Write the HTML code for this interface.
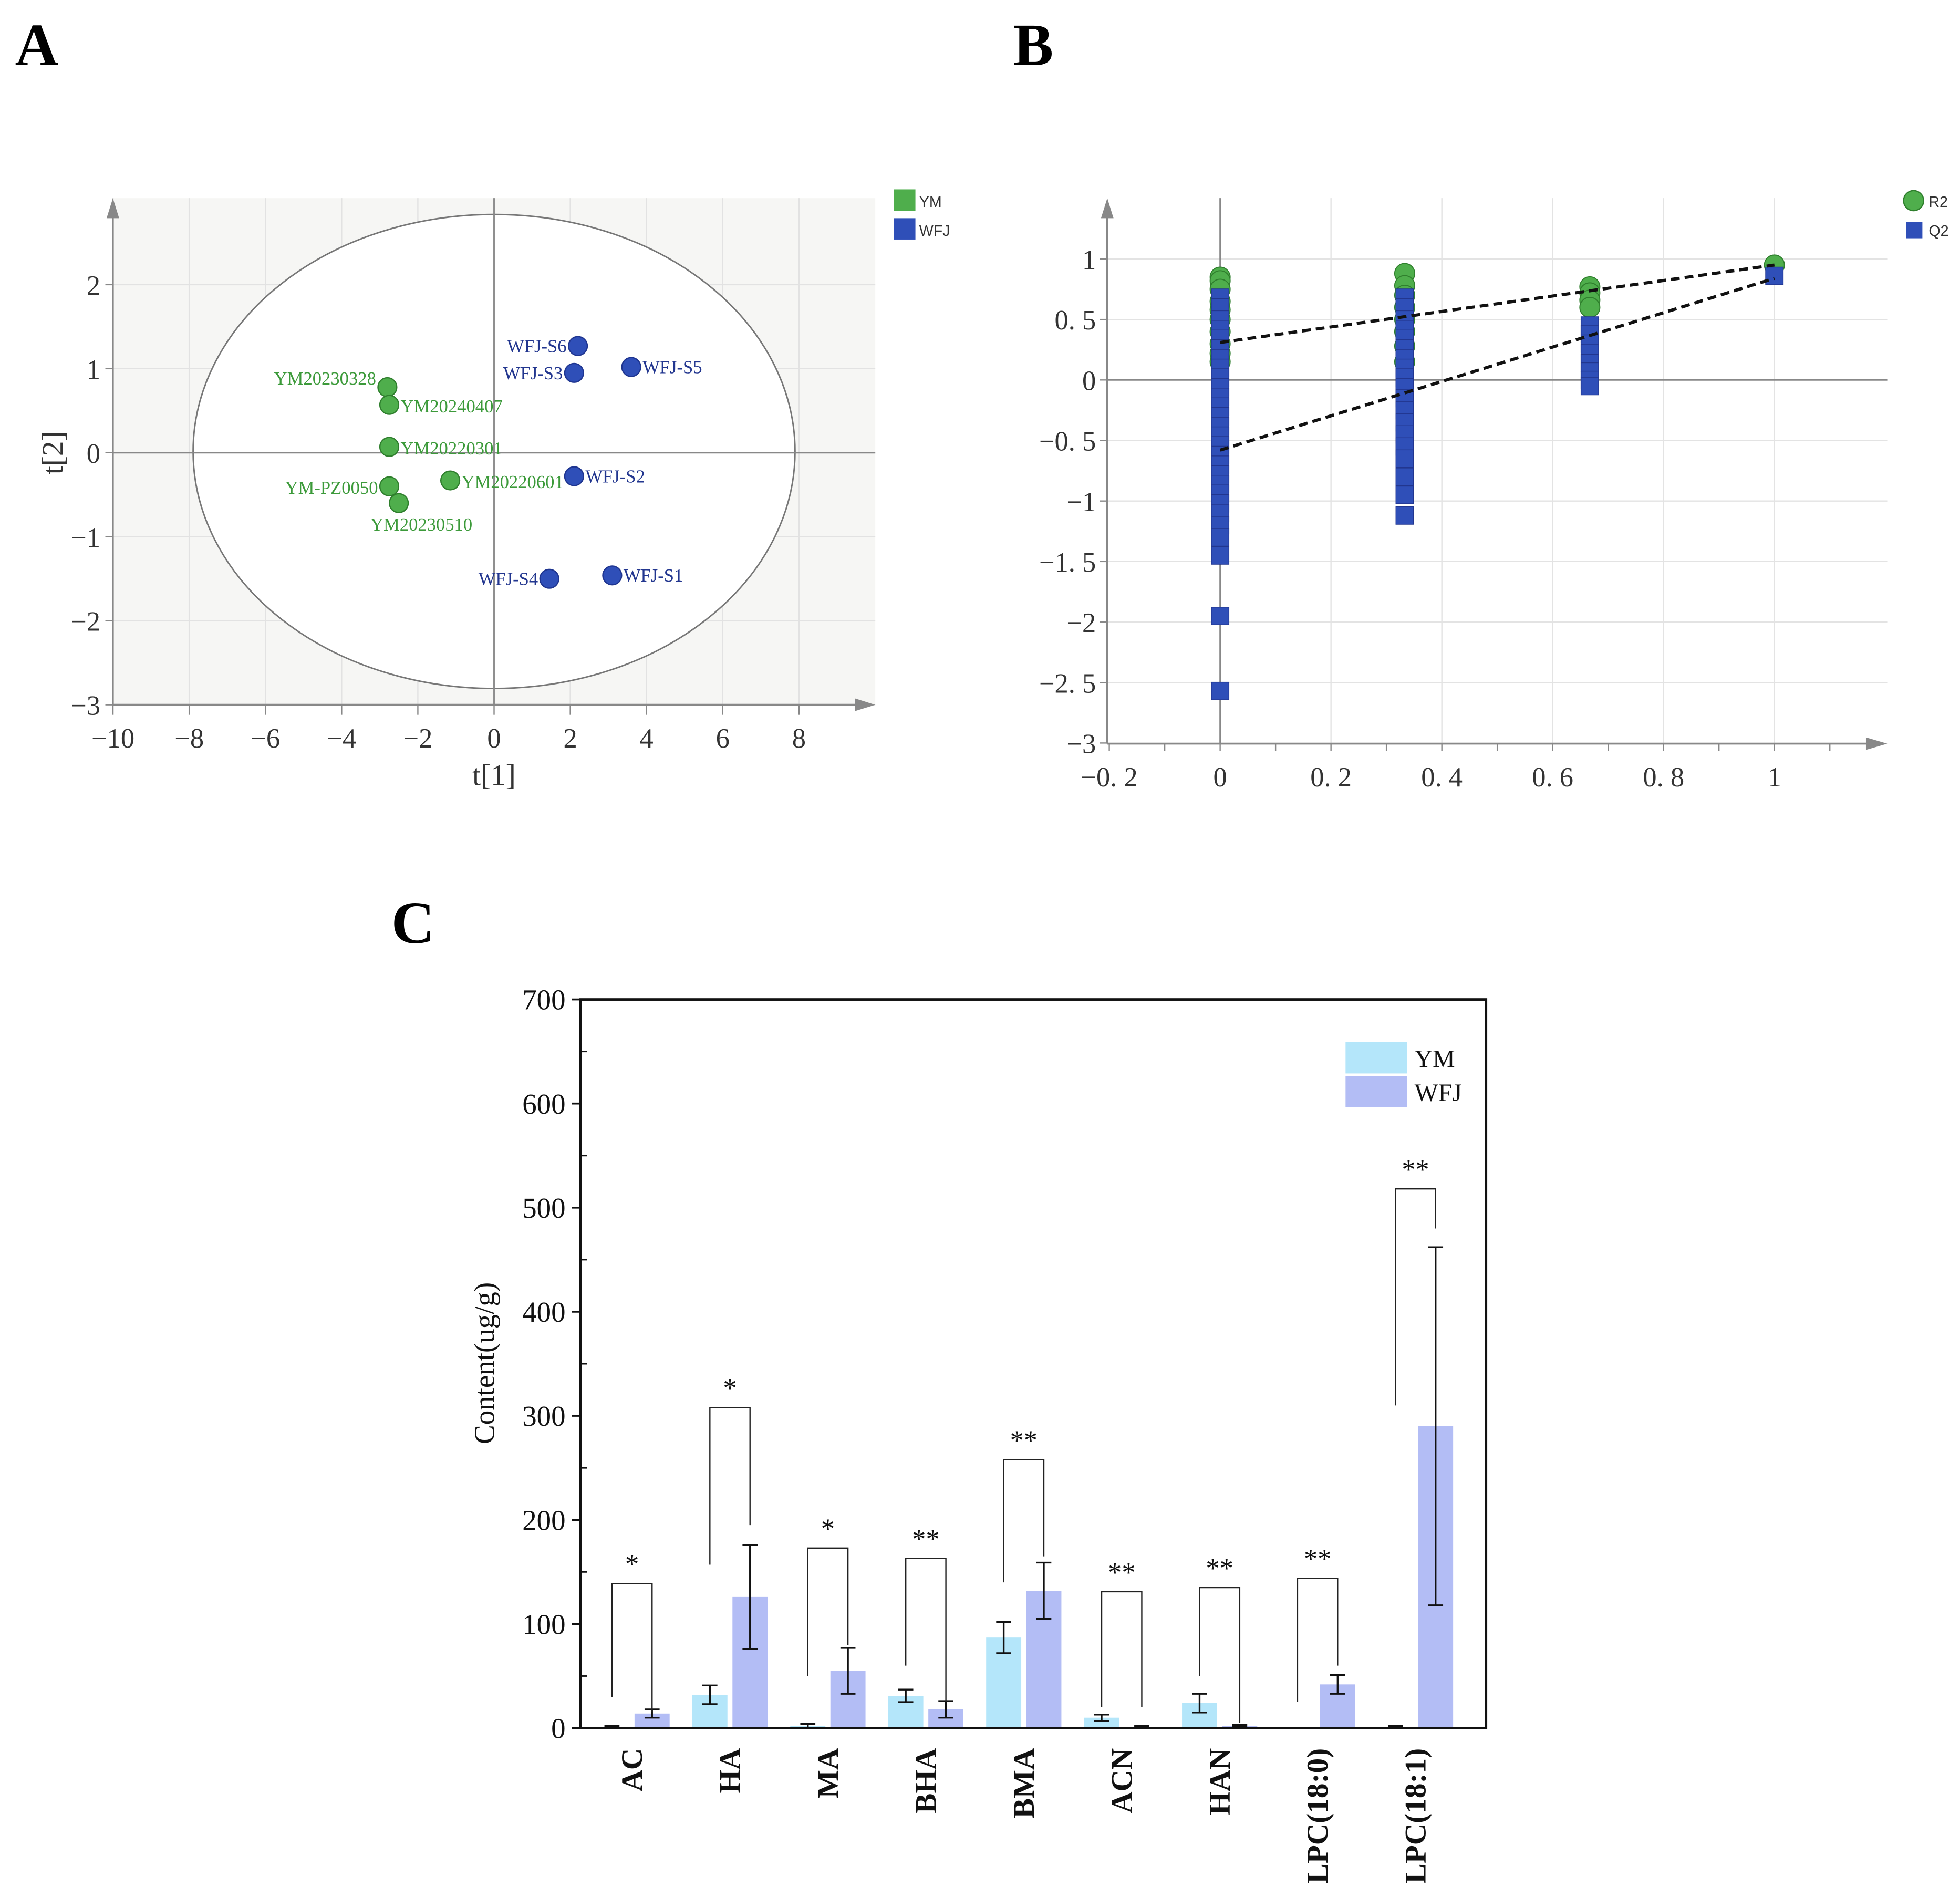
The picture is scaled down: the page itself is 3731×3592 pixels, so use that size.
<!DOCTYPE html>
<html><head><meta charset="utf-8"><style>
html,body{margin:0;padding:0;background:#fff}
svg{display:block}
text{font-family:"Liberation Serif",serif}
text.sans{font-family:"Liberation Sans",sans-serif}
</style></head><body>
<svg id="fig" width="3731" height="3592" viewBox="0 0 1563 1504.7" preserveAspectRatio="none" xmlns="http://www.w3.org/2000/svg">
<text x="12" y="52" font-size="48" font-weight="bold">A</text>
<text x="808" y="52" font-size="48" font-weight="bold">B</text>
<text x="312" y="752" font-size="48" font-weight="bold">C</text>
<g id="pa"></g>
<g id="pb"></g>
<g id="pc"></g>
</svg>
<script>
// ---------- Panel A data ----------
const ymNames=["YM20230328","YM20240407","YM20220301","YM-PZ0050","YM20230510","YM20220601"];
const ymT1=[-2.8,-2.75,-2.75,-2.75,-2.5,-1.15];
const ymT2=[0.78,0.57,0.07,-0.4,-0.6,-0.33];
const wfjNames=["WFJ-S6","WFJ-S3","WFJ-S5","WFJ-S2","WFJ-S4","WFJ-S1"];
const wfjT1=[2.2,2.1,3.6,2.1,1.45,3.1];
const wfjT2=[1.27,0.95,1.02,-0.28,-1.5,-1.46];
const aXTicks=[-10,-8,-6,-4,-2,0,2,4,6,8];
const aYTicks=[-3,-2,-1,0,1,2];
// ---------- Panel B data ----------
const r2X=[0,0,0,0,0,0,0,0,0,0,0.333,0.333,0.333,0.333,0.333,0.333,0.333,0.333,0.667,0.667,0.667,0.667,1];
const r2Y=[0.85,0.82,0.75,0.65,0.58,0.5,0.4,0.3,0.22,0.15,0.88,0.78,0.7,0.6,0.5,0.4,0.28,0.15,0.77,0.72,0.66,0.6,0.95];
const q2X=[0,0,0,0,0,0,0,0,0,0,0,0,0,0,0,0,0,0,0,0,0,0,0,0,0,0,0,0,0.333,0.333,0.333,0.333,0.333,0.333,0.333,0.333,0.333,0.333,0.333,0.333,0.333,0.333,0.333,0.333,0.333,0.333,0.333,0.667,0.667,0.667,0.667,0.667,0.667,0.667,0.667,1];
const q2Y=[0.68,0.6,0.5,0.42,0.34,0.26,0.18,0.1,0.02,-0.06,-0.14,-0.22,-0.3,-0.38,-0.46,-0.54,-0.62,-0.7,-0.78,-0.86,-0.94,-1.02,-1.1,-1.2,-1.3,-1.45,-1.95,-2.57,0.68,0.6,0.5,0.42,0.34,0.26,0.18,0.1,0.02,-0.06,-0.15,-0.25,-0.35,-0.45,-0.55,-0.65,-0.8,-0.95,-1.12,0.45,0.38,0.3,0.22,0.14,0.07,0,-0.05,0.86];
const r2Line=[0.31,0.95];
const q2Line=[-0.58,0.84];
const bXTicks=[-0.2,0,0.2,0.4,0.6,0.8,1];
const bXLabels=["\u22120. 2","0","0. 2","0. 4","0. 6","0. 8","1"];
const bYTicks=[-3,-2.5,-2,-1.5,-1,-0.5,0,0.5,1];
const bYLabels=["\u22123","\u22122. 5","\u22122","\u22121. 5","\u22121","\u22120. 5","0","0. 5","1"];
// ---------- Panel C data ----------
const cats=["AC","HA","MA","BHA","BMA","ACN","HAN","LPC(18:0)","LPC(18:1)"];
const ymVals=[1,32,2,31,87,10,24,0,1];
const ymErr=[1,9,2,6,15,3,9,0,1];
const wfjVals=[14,126,55,18,132,1,2,42,290];
const wfjErr=[4,50,22,8,27,1,1,9,172];
const brTop=[139,308,173,163,258,131,135,144,518];
const brLeft=[30,157,50,60,140,20,50,25,310];
const brRight=[16,195,80,25,165,20,5,60,480];
const stars=["*","*","*","**","**","**","**","**","**"];
const cYTicks=[0,100,200,300,400,500,600,700];

const NS="http://www.w3.org/2000/svg";
function mk(parent,tag,attrs,txt){const e=document.createElementNS(NS,tag);for(const k in attrs)e.setAttribute(k,attrs[k]);if(txt!==undefined)e.textContent=txt;parent.appendChild(e);return e;}

// ===== Panel A =====
(function(){
const g=document.getElementById('pa');
const ax=v=>394+v*30.39, ay=v=>361-v*67;
let e=mk(g,'rect',{x:90,y:158,width:608,height:404,fill:'#f6f6f4'});

for(let v=-10;v<=8;v+=2){if(v!==0)mk(g,'line',{x1:ax(v),y1:158,x2:ax(v),y2:562,stroke:'#e2e2e2','stroke-width':1});}
for(let v=-3;v<=2;v++){if(v!==0)mk(g,'line',{x1:90,y1:ay(v),x2:698,y2:ay(v),stroke:'#e2e2e2','stroke-width':1});}
e=mk(g,'ellipse',{cx:394,cy:360,rx:240,ry:189,fill:'#fff',stroke:'#777','stroke-width':1.2});

mk(g,'line',{x1:394,y1:158,x2:394,y2:562,stroke:'#888','stroke-width':1.2});
mk(g,'line',{x1:90,y1:361,x2:698,y2:361,stroke:'#888','stroke-width':1.2});
mk(g,'line',{x1:90,y1:562,x2:690,y2:562,stroke:'#888','stroke-width':1.5});
mk(g,'line',{x1:90,y1:170,x2:90,y2:562,stroke:'#888','stroke-width':1.5});
mk(g,'polygon',{points:'682,557 698,562 682,567',fill:'#888'});
mk(g,'polygon',{points:'85,174 90,158 95,174',fill:'#888'});
aXTicks.forEach(v=>{mk(g,'line',{x1:ax(v),y1:562,x2:ax(v),y2:570,stroke:'#888'});
 const t=mk(g,'text',{x:ax(v),y:596,'font-size':22,'text-anchor':'middle',fill:'#333'},v<0?'\u2212'+(-v):String(v));
 });
aYTicks.forEach(v=>{mk(g,'line',{x1:84,y1:ay(v),x2:90,y2:ay(v),stroke:'#888'});
 const t=mk(g,'text',{x:80,y:ay(v)+8,'font-size':22,'text-anchor':'end',fill:'#333'},v<0?'\u2212'+(-v):String(v));
 });
e=mk(g,'text',{x:394,y:626,'font-size':24,'text-anchor':'middle',fill:'#333'},'t[1]');

e=mk(g,'text',{x:0,y:0,'font-size':24,'text-anchor':'middle',fill:'#333',transform:'translate(50,361) rotate(-90)'},'t[2]');

const ymLab=[[-1,-4],[1,4],[1,4],[-1,4],[0,22],[1,4]];
ymNames.forEach((n,i)=>{const x=ax(ymT1[i]),y=ay(ymT2[i]);
 const c=mk(g,'circle',{cx:x,cy:y,r:7.5,fill:'#4fae4c',stroke:'#2f7f2d','stroke-width':1});
 
 const L=ymLab[i];let tx,anchor;
 if(L[0]<0){tx=x-9;anchor='end';}else if(L[0]>0){tx=x+9;anchor='start';}else{tx=x+18;anchor='middle';}
 const t=mk(g,'text',{x:tx,y:y+L[1]+(L[0]===0?0:2),'font-size':14.5,'text-anchor':anchor,fill:'#3c9a3a'},n);
 });
const wLab=[-1,-1,1,1,-1,1];
wfjNames.forEach((n,i)=>{const x=ax(wfjT1[i]),y=ay(wfjT2[i]);
 const c=mk(g,'circle',{cx:x,cy:y,r:7.5,fill:'#2f4fb8',stroke:'#1f3590','stroke-width':1});
 
 const t=mk(g,'text',{x:wLab[i]<0?x-9:x+9,y:y+5,'font-size':14.5,'text-anchor':wLab[i]<0?'end':'start',fill:'#22368f'},n);
 });
e=mk(g,'rect',{x:713,y:151,width:17,height:17,fill:'#4fae4c'});
e=mk(g,'text',{x:733,y:165,'font-size':12,fill:'#333',class:'sans'},'YM');
e=mk(g,'rect',{x:713,y:174,width:17,height:17,fill:'#2f4fb8'});
e=mk(g,'text',{x:733,y:188,'font-size':12,fill:'#333',class:'sans'},'WFJ');
})();

// ===== Panel B =====
(function(){
const g=document.getElementById('pb');
const bx=v=>973+v*442, by=v=>303-v*96.5;
for(let i=0;i<bXTicks.length;i++){const v=bXTicks[i];if(v!==0&&v!==-0.2)mk(g,'line',{x1:bx(v),y1:158,x2:bx(v),y2:593,stroke:'#e3e3e3'});}
bYTicks.forEach(v=>{if(v!==0&&v!==-3)mk(g,'line',{x1:883,y1:by(v),x2:1505,y2:by(v),stroke:'#e3e3e3'});});
mk(g,'line',{x1:973,y1:158,x2:973,y2:593,stroke:'#888','stroke-width':1.2});
mk(g,'line',{x1:883,y1:303,x2:1505,y2:303,stroke:'#888','stroke-width':1.2});
mk(g,'line',{x1:883,y1:593,x2:1495,y2:593,stroke:'#888','stroke-width':1.5});
mk(g,'line',{x1:883,y1:170,x2:883,y2:593,stroke:'#888','stroke-width':1.5});
mk(g,'polygon',{points:'1488,588 1505,593 1488,598',fill:'#888'});
mk(g,'polygon',{points:'878,174 883,158 888,174',fill:'#888'});
for(let v=-0.2;v<=1.15;v+=0.1){mk(g,'line',{x1:bx(v),y1:593,x2:bx(v),y2:599,stroke:'#888'});}
bXTicks.forEach((v,i)=>{const t=mk(g,'text',{x:bx(v),y:627,'font-size':22,'text-anchor':'middle',fill:'#333'},bXLabels[i]);
 });
bYTicks.forEach((v,i)=>{mk(g,'line',{x1:877,y1:by(v),x2:883,y2:by(v),stroke:'#888'});
 const t=mk(g,'text',{x:874,y:by(v)+8,'font-size':22,'text-anchor':'end',fill:'#333'},bYLabels[i]);
 });
r2X.forEach((x,i)=>{const c=mk(g,'circle',{cx:bx(x),cy:by(r2Y[i]),r:8,fill:'#4fae4c',stroke:'#2f7f2d','stroke-width':0.8});
 });
q2X.forEach((x,i)=>{const r=mk(g,'rect',{x:bx(x)-7,y:by(q2Y[i])-7,width:14,height:14,fill:'#2f4fb8',stroke:'#22368f','stroke-width':0.6});
 });
let e=mk(g,'line',{x1:bx(0),y1:by(r2Line[0]),x2:bx(1),y2:by(r2Line[1]),stroke:'#111','stroke-width':2.5,'stroke-dasharray':'7,4'});

e=mk(g,'line',{x1:bx(0),y1:by(q2Line[0]),x2:bx(1),y2:by(q2Line[1]),stroke:'#111','stroke-width':2.5,'stroke-dasharray':'7,4'});

e=mk(g,'circle',{cx:1526,cy:160,r:8,fill:'#4fae4c',stroke:'#2f7f2d'});
e=mk(g,'text',{x:1538,y:165,'font-size':12,fill:'#333',class:'sans'},'R2');
e=mk(g,'rect',{x:1520,y:177,width:13,height:13,fill:'#2f4fb8'});
e=mk(g,'text',{x:1538,y:188,'font-size':12,fill:'#333',class:'sans'},'Q2');
})();

// ===== Panel C =====
(function(){
const g=document.getElementById('pc');
const X0=463,X1=1185,Y0=1378,Ytop=797;
const cy=v=>Y0-v*(Y0-Ytop)/700;
const cx=i=>504+i*78.1;
const bw=28,off=16;
cYTicks.forEach(v=>{mk(g,'line',{x1:X0-7,y1:cy(v),x2:X0,y2:cy(v),stroke:'#111','stroke-width':1.5});
 if(v<700)mk(g,'line',{x1:X0,y1:cy(v+50),x2:X0+5,y2:cy(v+50),stroke:'#111','stroke-width':1.2});
 const t=mk(g,'text',{x:X0-12,y:cy(v)+8,'font-size':23,'text-anchor':'end',fill:'#111'},String(v));
 });
function bar(i,val,err,dx,col,name){const x=cx(i)+dx;
 const r=mk(g,'rect',{x:x-bw/2,y:cy(val),width:bw,height:Y0-cy(val),fill:col});
 
 if(err>0||val>0){const t=cy(val+err),b=cy(Math.max(0,val-err));
  mk(g,'line',{x1:x,y1:t,x2:x,y2:b,stroke:'#111','stroke-width':1.4});
  mk(g,'line',{x1:x-6,y1:t,x2:x+6,y2:t,stroke:'#111','stroke-width':1.4});
  mk(g,'line',{x1:x-6,y1:b,x2:x+6,y2:b,stroke:'#111','stroke-width':1.4});}}
cats.forEach((c,i)=>{
 bar(i,ymVals[i],ymErr[i],-off,'#b4e6fa','bar-ym-'+c.toLowerCase());
 bar(i,wfjVals[i],wfjErr[i],off,'#b3bdf5','bar-wfj-'+c.toLowerCase());
 const lx=cx(i)-off,rx=cx(i)+off;
 const p=mk(g,'polyline',{points:`${lx},${cy(brLeft[i])} ${lx},${cy(brTop[i])} ${rx},${cy(brTop[i])} ${rx},${cy(brRight[i])}`,fill:'none',stroke:'#222','stroke-width':1});
 
 const s=mk(g,'text',{x:cx(i),y:cy(brTop[i])-8,'font-size':22,'text-anchor':'middle',fill:'#111'},stars[i]);
 
 const t=mk(g,'text',{x:0,y:0,'font-size':24,'font-weight':'bold','text-anchor':'end',fill:'#111',transform:`translate(${cx(i)+8},1394) rotate(-90)`},c);
 
});
let e=mk(g,'rect',{x:X0,y:Ytop,width:X1-X0,height:Y0-Ytop,fill:'none',stroke:'#111','stroke-width':2});

e=mk(g,'text',{x:0,y:0,'font-size':23,'text-anchor':'middle',fill:'#111',transform:'translate(394,1087) rotate(-90)'},'Content(ug/g)');

e=mk(g,'rect',{x:1073,y:831,width:49,height:25,fill:'#b4e6fa'});
e=mk(g,'text',{x:1128,y:851,'font-size':20,fill:'#111'},'YM');
e=mk(g,'rect',{x:1073,y:858,width:49,height:25,fill:'#b3bdf5'});
e=mk(g,'text',{x:1128,y:878,'font-size':20,fill:'#111'},'WFJ');
})();
</script>
</body></html>
